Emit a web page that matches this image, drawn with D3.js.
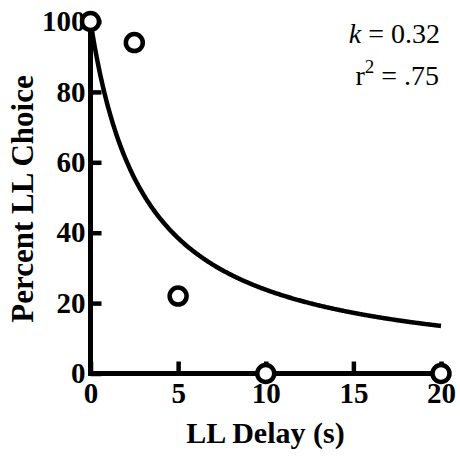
<!DOCTYPE html>
<html>
<head>
<meta charset="utf-8">
<script src="https://cdn.jsdelivr.net/npm/d3@7"></script>
<style>
  body { margin: 0; background: #fff; }
  svg text { font-family: "Liberation Serif", "Times New Roman", serif; }
</style>
</head>
<body>
<svg id="chart" width="460" height="456"></svg>
<script>
// observed choices (delay in s, percent LL choice)
var delays = [0, 2.5, 5, 10, 20];
var percentLL = [100, 94, 22, 0, 0];
var xTicks = [0, 5, 10, 15, 20];
var yTicks = [0, 20, 40, 60, 80, 100];
var kFit = 0.32;
var r2Label = '.75';

var svg = d3.select('#chart');
var x = d3.scaleLinear().domain([0, 20]).range([90.5, 441]);
var y = d3.scaleLinear().domain([0, 100]).range([373.5, 21.5]);

// axes: ticks point inward
var xAxis = d3.axisBottom(x).tickValues(xTicks).tickSize(-12).tickPadding(9);
var yAxis = d3.axisLeft(y).tickValues(yTicks).tickSize(-11).tickPadding(5);

var gx = svg.append('g').attr('transform', 'translate(0,' + y(0) + ')').call(xAxis);
var gy = svg.append('g').attr('transform', 'translate(' + x(0) + ',0)').call(yAxis);

[gx, gy].forEach(function(g) {
  g.select('.domain').attr('stroke', '#000').attr('stroke-width', 5);
  g.selectAll('.tick line').attr('stroke', '#000').attr('stroke-width', 4.5);
  g.selectAll('.tick text')
    .style('font-size', '29px').style('font-weight', 'bold').attr('fill', '#000');
});
// plain axis lines, no outer ticks
gx.select('.domain').attr('d', 'M' + (x(0) - 2.5) + ',0H' + x(20));
gy.select('.domain').attr('d', 'M0,' + (y(0) + 2.5) + 'V' + y(100));

// fitted hyperbolic curve
var curvePts = d3.range(0, 20.001, 0.05).map(function(d) { return [d, 100 / (1 + kFit * d)]; });
svg.append('path')
  .datum(curvePts)
  .attr('fill', 'none')
  .attr('stroke', '#000')
  .attr('stroke-width', 4.5)
  .attr('d', d3.line().x(function(d) { return x(d[0]); }).y(function(d) { return y(d[1]); }));

// data points
svg.append('g').selectAll('circle')
  .data(delays)
  .join('circle')
  .attr('cx', function(d) { return x(d); })
  .attr('cy', function(d, i) { return y(percentLL[i]); })
  .attr('r', 8.5)
  .attr('fill', '#fff')
  .attr('stroke', '#000')
  .attr('stroke-width', 4.5);

// axis titles
svg.append('text')
  .attr('x', 265.5).attr('y', 443)
  .attr('text-anchor', 'middle')
  .style('font-size', '30px').style('font-weight', 'bold')
  .text('LL Delay (s)');

svg.append('text')
  .attr('transform', 'translate(33,' + 199 + ') rotate(-90)')
  .attr('text-anchor', 'middle')
  .style('font-size', '31px').style('font-weight', 'bold')
  .text('Percent LL Choice');

// fit annotation
var ann1 = svg.append('text')
  .attr('x', 440).attr('y', 43)
  .attr('text-anchor', 'end')
  .style('font-size', '28px');
ann1.append('tspan').style('font-style', 'italic').text('k');
ann1.append('tspan').text(' = ' + kFit.toFixed(2));

var ann2 = svg.append('text')
  .attr('x', 439).attr('y', 85)
  .attr('text-anchor', 'end')
  .style('font-size', '28px');
ann2.append('tspan').text('r');
ann2.append('tspan').attr('dy', -12).style('font-size', '19px').text('2');
ann2.append('tspan').attr('dy', 12).text(' = ' + r2Label);
</script>
</body>
</html>
